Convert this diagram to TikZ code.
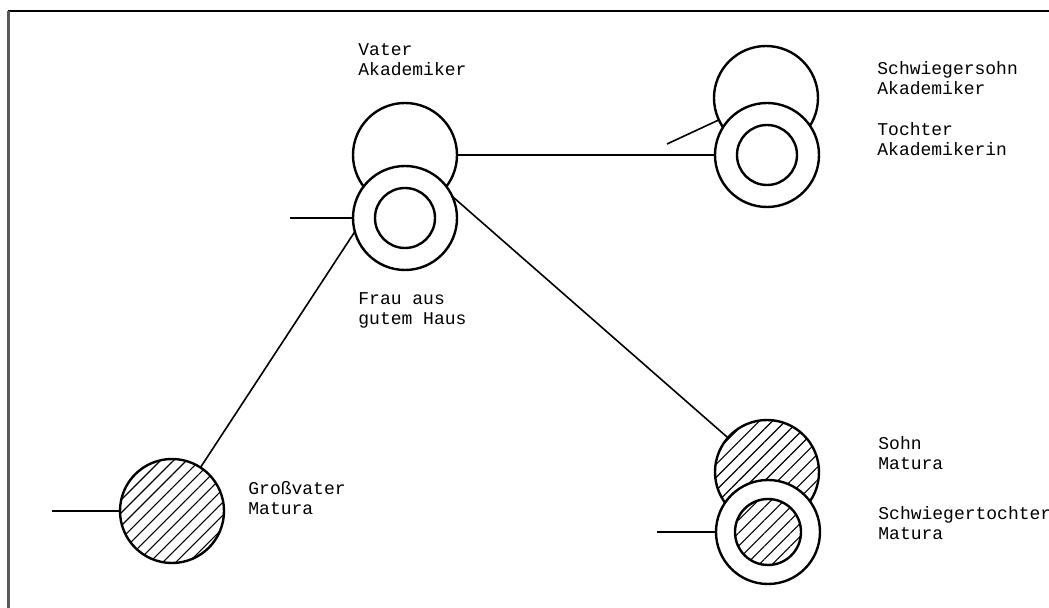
\documentclass[tikz,border=0pt]{standalone}
\usepackage{fontspec}
\setmonofont{Liberation Mono}
\usetikzlibrary{backgrounds,patterns.meta}

\begin{document}
\begin{tikzpicture}[x=0.5pt,y=-0.5pt,
    person/.style={circle, draw, line width=1.2pt, fill=white, minimum size=52pt, inner sep=0pt},
    kern/.style={circle, draw, line width=1.2pt, minimum size=30pt, inner sep=0pt},
    matura/.style={preaction={fill=white}, pattern={Lines[angle=45,distance=4.6pt,line width=0.55pt]}},
    link/.style={line width=0.8pt},
    beschrift/.style={font=\ttfamily\fontsize{9}{10}\selectfont, align=left, anchor=west, inner sep=0pt}]
        \useasboundingbox (0,0) rectangle (1049,608);
        \draw[line width=1pt] (8,11) -- (1049,11);
        \draw[line width=1.5pt, black!65] (8,11) -- (8,608);

        \node[person] (vater) at (405,155) {};
        \node[person] (frau) at (405,218) {};
        \node[kern] (fraukern) at (frau) {};
        \node[person] (schwsohn) at (766,98) {};
        \node[person] (tochter) at (767,155) {};
        \node[kern] (tochterkern) at (tochter) {};
        \node[person, matura] (grossvater) at (172,511) {};
        \node[person, matura] (sohn) at (767,472) {};
        \node[person] (schwtochter) at (768,532) {};
        \node[kern, matura, minimum size=33pt] (schwtochterkern) at (schwtochter) {};

        \coordinate (gvfrei) at (52,511);
        \coordinate (fraufrei) at (290,218);
        \coordinate (sohnfrei) at (667,144);
        \coordinate (stfrei) at (657,532);

        \begin{scope}[on background layer]
            \draw[link] (grossvater.center) -- (vater.center);
            \draw[link] (vater.center) -- (tochter.center);
            \draw[link] (vater.center) -- (sohn.center);
            \draw[link] (gvfrei) -- (grossvater.center);
            \draw[link] (fraufrei) -- (frau.center);
            \draw[link] (sohnfrei) -- (schwsohn.center);
            \draw[link] (stfrei) -- (schwtochter.center);
        \end{scope}

        \node[beschrift] (tvater) at (358,60) {Vater\\Akademiker};
        \node[beschrift] (tfrau) at (358,310) {Frau aus\\gutem Haus};
        \node[beschrift] (tschwsohn) at (877,78) {Schwiegersohn\\Akademiker};
        \node[beschrift] (ttochter) at (877,139) {Tochter\\Akademikerin};
        \node[beschrift] (tgrossvater) at (248,498) {Großvater\\Matura};
        \node[beschrift] (tsohn) at (878,453) {Sohn\\Matura};
        \node[beschrift] (tschwtochter) at (878,523) {Schwiegertochter\\Matura};
\end{tikzpicture}
\end{document}
